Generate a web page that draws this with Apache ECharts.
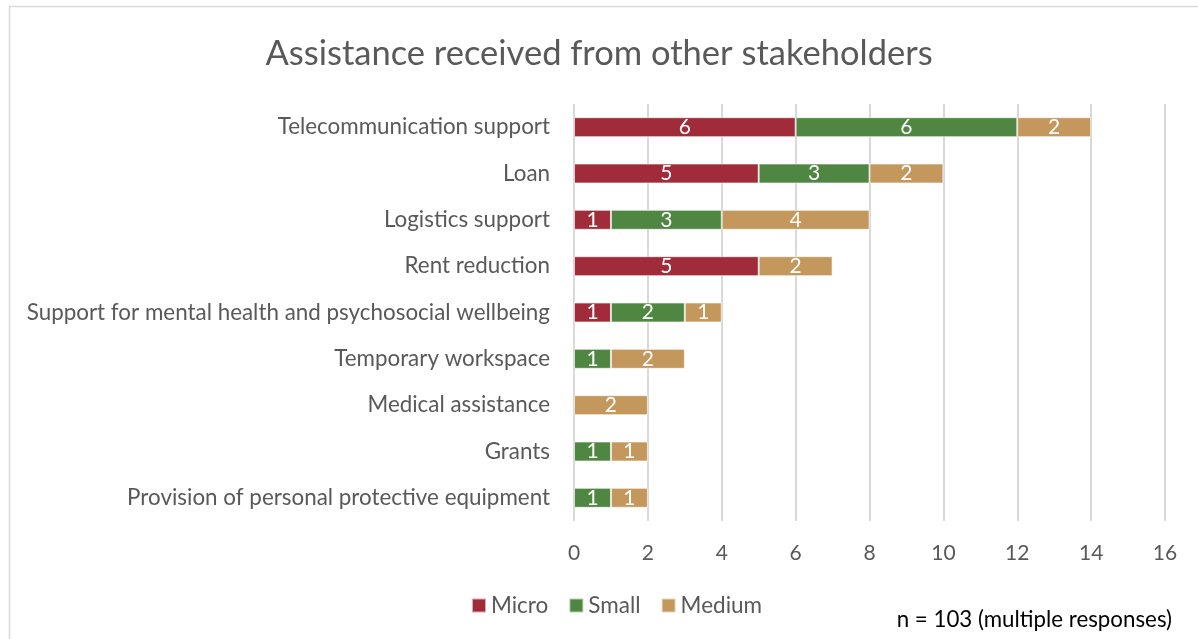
<!DOCTYPE html>
<html>
<head>
<meta charset="utf-8">
<script src="https://cdn.jsdelivr.net/npm/echarts@6/dist/echarts.min.js"></script>
<style>
  html, body { margin: 0; padding: 0; background: #fff; }
  #chart { width: 1198px; height: 639px; }
</style>
</head>
<body>
<div id="chart"></div>
<script>
// Categories listed bottom-to-top (category axis draws first item at the bottom)
const categories = [
  'Provision of personal protective equipment',
  'Grants',
  'Medical assistance',
  'Temporary workspace',
  'Support for mental health and psychosocial wellbeing',
  'Rent reduction',
  'Logistics support',
  'Loan',
  'Telecommunication support'
];
const microValues  = [null, null, null, null, 1, 5, 1, 5, 6];
const smallValues  = [1, 1, null, 1, 2, null, 3, 3, 6];
const mediumValues = [1, 1, 2, 2, 1, 2, 4, 2, 2];
const xTicks = { min: 0, max: 16, interval: 2 };

const FONT = 'Lato';
const TEXT = '#595959';

function barSeries(name, data, color) {
  return {
    name: name,
    type: 'bar',
    stack: 'total',
    data: data,
    barWidth: '43%',
    itemStyle: { color: color, borderColor: 'rgba(255,255,255,0.6)', borderWidth: 1 },
    label: {
      show: true,
      position: 'inside',
      color: '#ffffff',
      fontFamily: FONT,
      fontSize: 21,
      formatter: p => (p.value == null ? '' : String(p.value))
    }
  };
}

const chart = echarts.init(document.getElementById('chart'), null, { renderer: 'canvas' });
chart.setOption({
  backgroundColor: '#ffffff',
  animation: false,
  title: {
    text: 'Assistance received from other stakeholders',
    left: 'center',
    top: 31,
    textStyle: { fontFamily: FONT, fontSize: 34.5, fontWeight: 'normal', color: TEXT }
  },
  legend: {
    data: ['Micro', 'Small', 'Medium'],
    bottom: 17,
    left: 466,
    itemWidth: 14,
    itemHeight: 14,
    itemGap: 20,
    icon: 'rect',
    textStyle: { fontFamily: FONT, fontSize: 22.5, color: TEXT }
  },
  grid: { left: 574, right: 33, top: 104, bottom: 118 },
  xAxis: {
    type: 'value',
    min: xTicks.min,
    max: xTicks.max,
    interval: xTicks.interval,
    axisLine: { show: false },
    axisTick: { show: false },
    axisLabel: { fontFamily: FONT, fontSize: 21, color: TEXT, margin: 22 },
    splitLine: { show: true, lineStyle: { color: '#d9d9d9', width: 2 } }
  },
  yAxis: {
    type: 'category',
    data: categories,
    axisLine: { show: false },
    axisTick: { show: false },
    axisLabel: { fontFamily: FONT, fontSize: 22.4, color: TEXT, margin: 24 }
  },
  graphic: [
    {
      type: 'rect',
      shape: { x: 9.5, y: 6.5, width: 1200, height: 640 },
      style: { fill: 'none', stroke: '#d9d9d9', lineWidth: 1.5 },
      silent: true
    },
    {
      type: 'text',
      right: 26,
      bottom: 8,
      style: {
        text: 'n = 103 (multiple responses)',
        fontFamily: FONT,
        fontSize: 22.3,
        fill: '#000000'
      }
    }
  ],
  series: [
    barSeries('Micro', microValues, '#A02B39'),
    barSeries('Small', smallValues, '#4E8642'),
    barSeries('Medium', mediumValues, '#C4975C')
  ]
});
</script>
</body>
</html>
